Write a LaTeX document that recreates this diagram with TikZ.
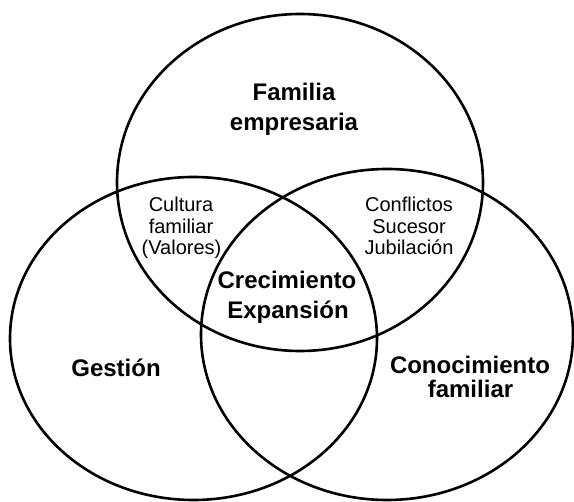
\documentclass[tikz,border=0pt]{standalone}
\usepackage{fontspec}
\setmainfont{Liberation Sans}
\begin{document}
\begin{tikzpicture}[x=1pt,y=-1pt,
  ring/.style={draw=black,line width=2.6pt},
  biglabel/.style={font=\fontsize{24}{24}\selectfont\bfseries,inner sep=0pt,anchor=base},
  smalllabel/.style={font=\fontsize{20}{20}\selectfont,inner sep=0pt,anchor=base}]
  \useasboundingbox (0,0) rectangle (574,502);

  % the three sets
  \draw[ring] (300,182.5) ellipse [x radius=183pt, y radius=168.5pt];
  \draw[ring] (193.5,338.5) ellipse [x radius=183.5pt, y radius=161.5pt];
  \draw[ring] (387,334.5) ellipse [x radius=186pt, y radius=165.5pt];

  % set names
  \node[biglabel] (fam1) at (294,101) {Familia};
  \node[biglabel] (fam2) at (294,131) {empresaria};
  \node[biglabel] (ges)  at (116,377) {Gestión};
  \node[biglabel] (con1) at (470,374) {Conocimiento};
  \node[biglabel] (con2) at (470.5,398) {familiar};

  % pairwise overlaps
  \node[smalllabel] (cul1) at (181,212) {Cultura};
  \node[smalllabel] (cul2) at (181,233.5) {familiar};
  \node[smalllabel] (cul3) at (181.5,255) {(Valores)};
  \node[smalllabel] (cf1) at (409,212) {Conflictos};
  \node[smalllabel] (cf2) at (409,233.5) {Sucesor};
  \node[smalllabel] (cf3) at (409,255) {Jubilación};

  % common centre
  \node[biglabel] (cen1) at (287,289) {Crecimiento};
  \node[biglabel] (cen2) at (288,319) {Expansión};
\end{tikzpicture}
\end{document}
